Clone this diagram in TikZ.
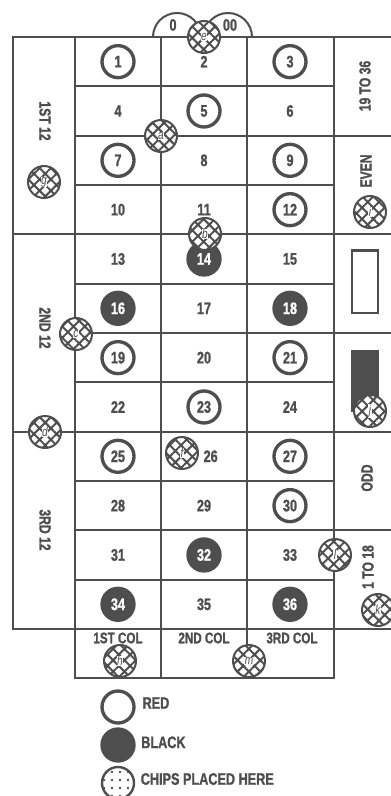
\documentclass[tikz,border=0pt]{standalone}
\usepackage{fontspec}
\setmainfont{Liberation Sans}[FakeStretch=0.76, BoldFont={Liberation Sans Bold},
  BoldFeatures={FakeBold=1.2},
  ItalicFont={Liberation Sans Italic}, BoldItalicFont={Liberation Sans Bold Italic}]
\usetikzlibrary{positioning, patterns.meta}
\definecolor{ink}{RGB}{78,78,78}
\newcommand{\chipletter}[1]{{\setlength{\fboxsep}{0.3pt}\colorbox{white}{#1}}}

\begin{document}
\begin{tikzpicture}[x=0.75pt, y=-0.75pt, text=ink,
  font=\bfseries\fontsize{12.5}{13}\selectfont,
  board/.style={draw=ink, line width=1.5pt},
  plainnum/.style={inner sep=0pt},
  shiftnum/.style={plainnum, xshift=5pt},
  rednum/.style={circle, draw=ink, line width=2.5pt, fill=white,
                 minimum size=24pt, inner sep=0pt},
  blacknum/.style={rednum, fill=ink, text=white},
  chip/.style={circle, draw=ink, line width=1.5pt, minimum size=24pt,
               inner sep=0pt, preaction={fill=white},
               pattern={Hatch[angle=45, distance=6pt, line width=1.5pt]},
               pattern color=ink,
               font=\itshape\fontsize{10}{10}\selectfont},
  sidelabel/.style={inner sep=0pt, font=\bfseries\fontsize{12}{13}\selectfont},
  collabel/.style={inner sep=0pt, font=\bfseries\fontsize{11.5}{12}\selectfont}]
  \useasboundingbox (0,0) rectangle (391,796);

  % table lines
  \draw[board] (391,37) -- (13,37) -- (13,629) -- (391,629);
  \draw[board] (75,37) -- (75,678) -- (334,678) -- (334,37);
  \foreach \x in {161,247} \draw[board] (\x,37) -- (\x,678);
  \foreach \i in {1,...,11} \draw[board] (75,{37+49.33*\i}) -- (334,{37+49.33*\i});
  \foreach \i in {4,8} \draw[board] (13,{37+49.33*\i}) -- (75,{37+49.33*\i});
  \foreach \i in {2,4,...,10} \draw[board] (334,{37+49.33*\i}) -- (391,{37+49.33*\i});

  % zero and double zero
  \draw[board] (153,37) arc[start angle=180, end angle=360, radius=24];
  \draw[board] (204,37) arc[start angle=180, end angle=360, radius=24];
  \node[plainnum] (zero) at (173,25) {0};
  \node[plainnum] (dzero) at (230,25) {00};

  % numbers
  \foreach \n/\s in {1/rednum,2/plainnum,3/rednum,4/plainnum,5/rednum,6/plainnum,
      7/rednum,8/plainnum,9/rednum,10/plainnum,11/plainnum,12/rednum,
      13/plainnum,14/blacknum,15/plainnum,16/blacknum,17/plainnum,18/blacknum,
      19/rednum,20/plainnum,21/rednum,22/plainnum,23/rednum,24/plainnum,
      25/rednum,26/shiftnum,27/rednum,28/plainnum,29/plainnum,30/rednum,
      31/plainnum,32/blacknum,33/plainnum,34/blacknum,35/plainnum,36/blacknum}
  {
    \pgfmathsetmacro\cx{118+86*mod(\n-1,3)}
    \pgfmathsetmacro\cy{37+49.33*(ceil(\n/3)-0.5)}
    \node[\s] (n\n) at (\cx,\cy) {\n};
  }

  % outside bets
  \node[sidelabel, rotate=-90] (first) at (45,121) {1ST 12};
  \node[sidelabel, rotate=-90] (second) at (45,328) {2ND 12};
  \node[sidelabel, rotate=-90] (third) at (45,530) {3RD 12};
  \node[sidelabel, rotate=90] (high) at (365,86) {19 TO 36};
  \node[sidelabel, rotate=90] (even) at (366,171) {EVEN};
  \node[sidelabel, rotate=90] (odd) at (367,478) {ODD};
  \node[sidelabel, rotate=90] (low) at (368,567) {1 TO 18};
  \node[draw=ink, line width=2pt, minimum width=19.5pt, minimum height=47pt,
        inner sep=0pt] (redbox) at (365,281.5) {};
  \node[draw=ink, fill=ink, line width=1pt, minimum width=19.5pt,
        minimum height=46pt, inner sep=0pt] (blackbox) at (365,381) {};
  \node[collabel] (col1) at (118,638) {1ST COL};
  \node[collabel] (col2) at (204,638) {2ND COL};
  \node[collabel] (col3) at (292,638) {3RD COL};

  % chips
  \node[chip] (chipa) at (161,136) {\chipletter{a}};
  \node[chip] (chipb) at (205,234) {\chipletter{b}};
  \node[chip] (chipc) at (76,334) {\chipletter{c}};
  \node[chip] (chipd) at (45,432) {\chipletter{d}};
  \node[chip] (chipe) at (204,37) {\chipletter{e}};
  \node[chip] (chipf) at (182,453) {\chipletter{f}};
  \node[chip] (chipg) at (44,182) {\chipletter{g}};
  \node[chip] (chiph) at (120,661) {\chipletter{h}};
  \node[chip] (chipi) at (370,212) {\chipletter{i}};
  \node[chip] (chipj) at (370,411) {\chipletter{j}};
  \node[chip] (chipk) at (378,610) {\chipletter{k}};
  \node[chip] (chipl) at (335,555) {\chipletter{l}};
  \node[chip] (chipm) at (249,661) {\chipletter{m}};

  % key
  \node[rednum] (keyred) at (118,707) {};
  \node[blacknum] (keyblack) at (118,745) {};
  \node[circle, draw=ink, line width=1.8pt, minimum size=24pt, inner sep=0pt,
        pattern={Dots[distance=6pt, radius=1pt]}, pattern color=ink]
        (keychip) at (118,783) {};
  \node[right=5pt of keyred, yshift=3pt, inner sep=0pt] (redtext) {RED};
  \node[right=4pt of keyblack, yshift=2pt, inner sep=0pt] (blacktext) {BLACK};
  \node[right=4pt of keychip, yshift=3pt, inner sep=0pt] (chiptext) {CHIPS PLACED HERE};
\end{tikzpicture}
\end{document}
